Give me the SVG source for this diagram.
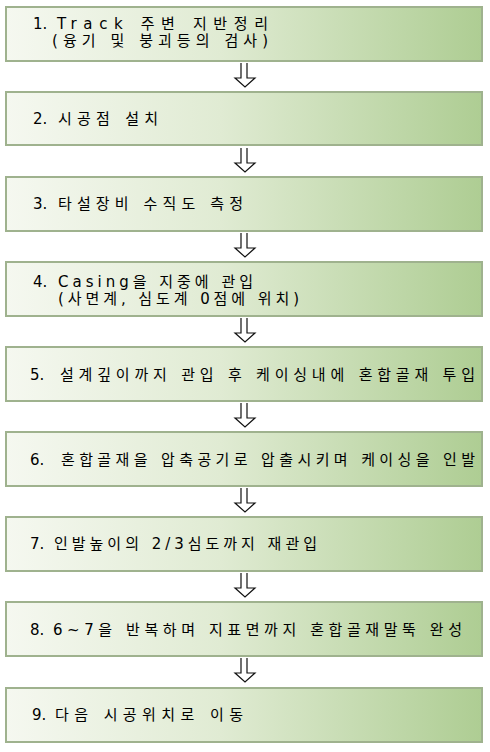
<svg xmlns="http://www.w3.org/2000/svg" width="490" height="752" viewBox="0 0 490 752">
<defs>
<linearGradient id="g" x1="0" y1="0" x2="1" y2="0">
<stop offset="0" stop-color="#f5f8f0"/>
<stop offset="0.45" stop-color="#e0ebd3"/>
<stop offset="1" stop-color="#aecd93"/>
</linearGradient>
<style>
.box{fill:url(#g);stroke:#9fb28e;stroke-width:2}
.t{font-family:"DejaVu Sans","Noto Sans CJK KR",sans-serif;font-size:15px;fill:#000}
.arr{fill:#fff;stroke:#111;stroke-width:1.2;stroke-linejoin:miter}
</style>
</defs>
<rect width="490" height="752" fill="#fff"/>
<g id="step1"><rect class="box" x="6" y="7" width="476" height="54"/>
<text class="t"><tspan x="33" y="29">1.</tspan><tspan x="57" y="29" textLength="211" lengthAdjust="spacing">Track 주변 지반정리</tspan><tspan x="52" y="46" textLength="216" lengthAdjust="spacing">(융기 및 붕괴등의 검사)</tspan></text></g>
<g id="step2"><rect class="box" x="6" y="92" width="476" height="53"/>
<text class="t" y="124"><tspan x="33">2.</tspan><tspan x="58" textLength="100" lengthAdjust="spacing">시공점 설치</tspan></text></g>
<g id="step3"><rect class="box" x="6" y="177" width="476" height="54"/>
<text class="t" y="209"><tspan x="33">3.</tspan><tspan x="58" textLength="185" lengthAdjust="spacing">타설장비 수직도 측정</tspan></text></g>
<g id="step4"><rect class="box" x="6" y="262" width="476" height="54"/>
<text class="t"><tspan x="33" y="287">4.</tspan><tspan x="58" y="287" textLength="195" lengthAdjust="spacing">Casing을 지중에 관입</tspan><tspan x="58" y="304" textLength="241" lengthAdjust="spacing">(사면계, 심도계 0점에 위치)</tspan></text></g>
<g id="step5"><rect class="box" x="6" y="347" width="476" height="54"/>
<text class="t" y="380"><tspan x="30">5.</tspan><tspan x="60" textLength="415" lengthAdjust="spacing">설계깊이까지 관입 후 케이싱내에 혼합골재 투입</tspan></text></g>
<g id="step6"><rect class="box" x="6" y="432" width="476" height="54"/>
<text class="t" y="465"><tspan x="30">6.</tspan><tspan x="61" textLength="414" lengthAdjust="spacing">혼합골재을 압축공기로 압출시키며 케이싱을 인발</tspan></text></g>
<g id="step7"><rect class="box" x="6" y="517" width="476" height="54"/>
<text class="t" y="549"><tspan x="30">7.</tspan><tspan x="54" textLength="263" lengthAdjust="spacing">인발높이의 2/3심도까지 재관입</tspan></text></g>
<g id="step8"><rect class="box" x="6" y="602" width="476" height="54"/>
<text class="t" y="635"><tspan x="30">8.</tspan><tspan x="53" textLength="409" lengthAdjust="spacing">6~7을 반복하며 지표면까지 혼합골재말뚝 완성</tspan></text></g>
<g id="step9"><rect class="box" x="6" y="688" width="476" height="54"/>
<text class="t" y="720"><tspan x="32">9.</tspan><tspan x="55" textLength="188" lengthAdjust="spacing">다음 시공위치로 이동</tspan></text></g>
<g id="connectors">
<path class="arr" d="M241,63 V78 H235 L245,87 L255,78 H247 V63"/>
<path class="arr" d="M241,148 V163 H235 L245,172 L255,163 H247 V148"/>
<path class="arr" d="M241,233 V248 H235 L245,257 L255,248 H247 V233"/>
<path class="arr" d="M241,318 V333 H235 L245,342 L255,333 H247 V318"/>
<path class="arr" d="M241,403 V418 H235 L245,427 L255,418 H247 V403"/>
<path class="arr" d="M241,488 V503 H235 L245,512 L255,503 H247 V488"/>
<path class="arr" d="M241,573 V588 H235 L245,597 L255,588 H247 V573"/>
<path class="arr" d="M241,658 V673 H235 L245,682 L255,673 H247 V658"/>
</g>
</svg>
